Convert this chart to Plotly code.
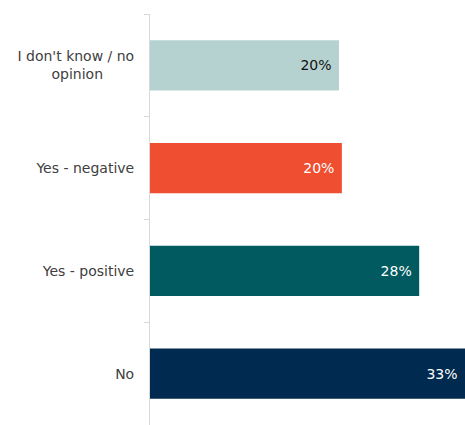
import plotly.graph_objects as go

categories = ["I don't know / no<br>opinion" + "&nbsp;" * 7, "Yes - negative", "Yes - positive", "No"]
values = [19.8, 20.1, 28.2, 33.0]
colors = ["#b5d1d0", "#f04e31", "#005a5f", "#002a4f"]
text_colors = ["#111111", "#ffffff", "#ffffff", "#ffffff"]
labels = [f"{round(v):.0f}% " for v in values]

fig = go.Figure(go.Bar(
    x=values, y=categories, orientation="h",
    marker=dict(color=colors, line=dict(width=0)),
    text=labels, textposition="inside", insidetextanchor="end",
    textfont=dict(color=text_colors, size=14, family="DejaVu Sans"),
    cliponaxis=False,
))
fig.update_layout(
    width=465, height=425,
    margin=dict(l=150, r=0, t=14, b=0),
    paper_bgcolor="white", plot_bgcolor="white",
    bargap=0.51, showlegend=False,
    xaxis=dict(range=[0, 33], visible=False, fixedrange=True),
    yaxis=dict(autorange="reversed", tickson="boundaries", ticks="outside",
               ticklen=5, tickcolor="#d9d9d9", showline=True, linecolor="#d9d9d9",
               linewidth=1, tickfont=dict(family="DejaVu Sans", size=14, color="#404040"),
               ticklabelstandoff=12, showgrid=False),
)
fig.write_html("out.html")
